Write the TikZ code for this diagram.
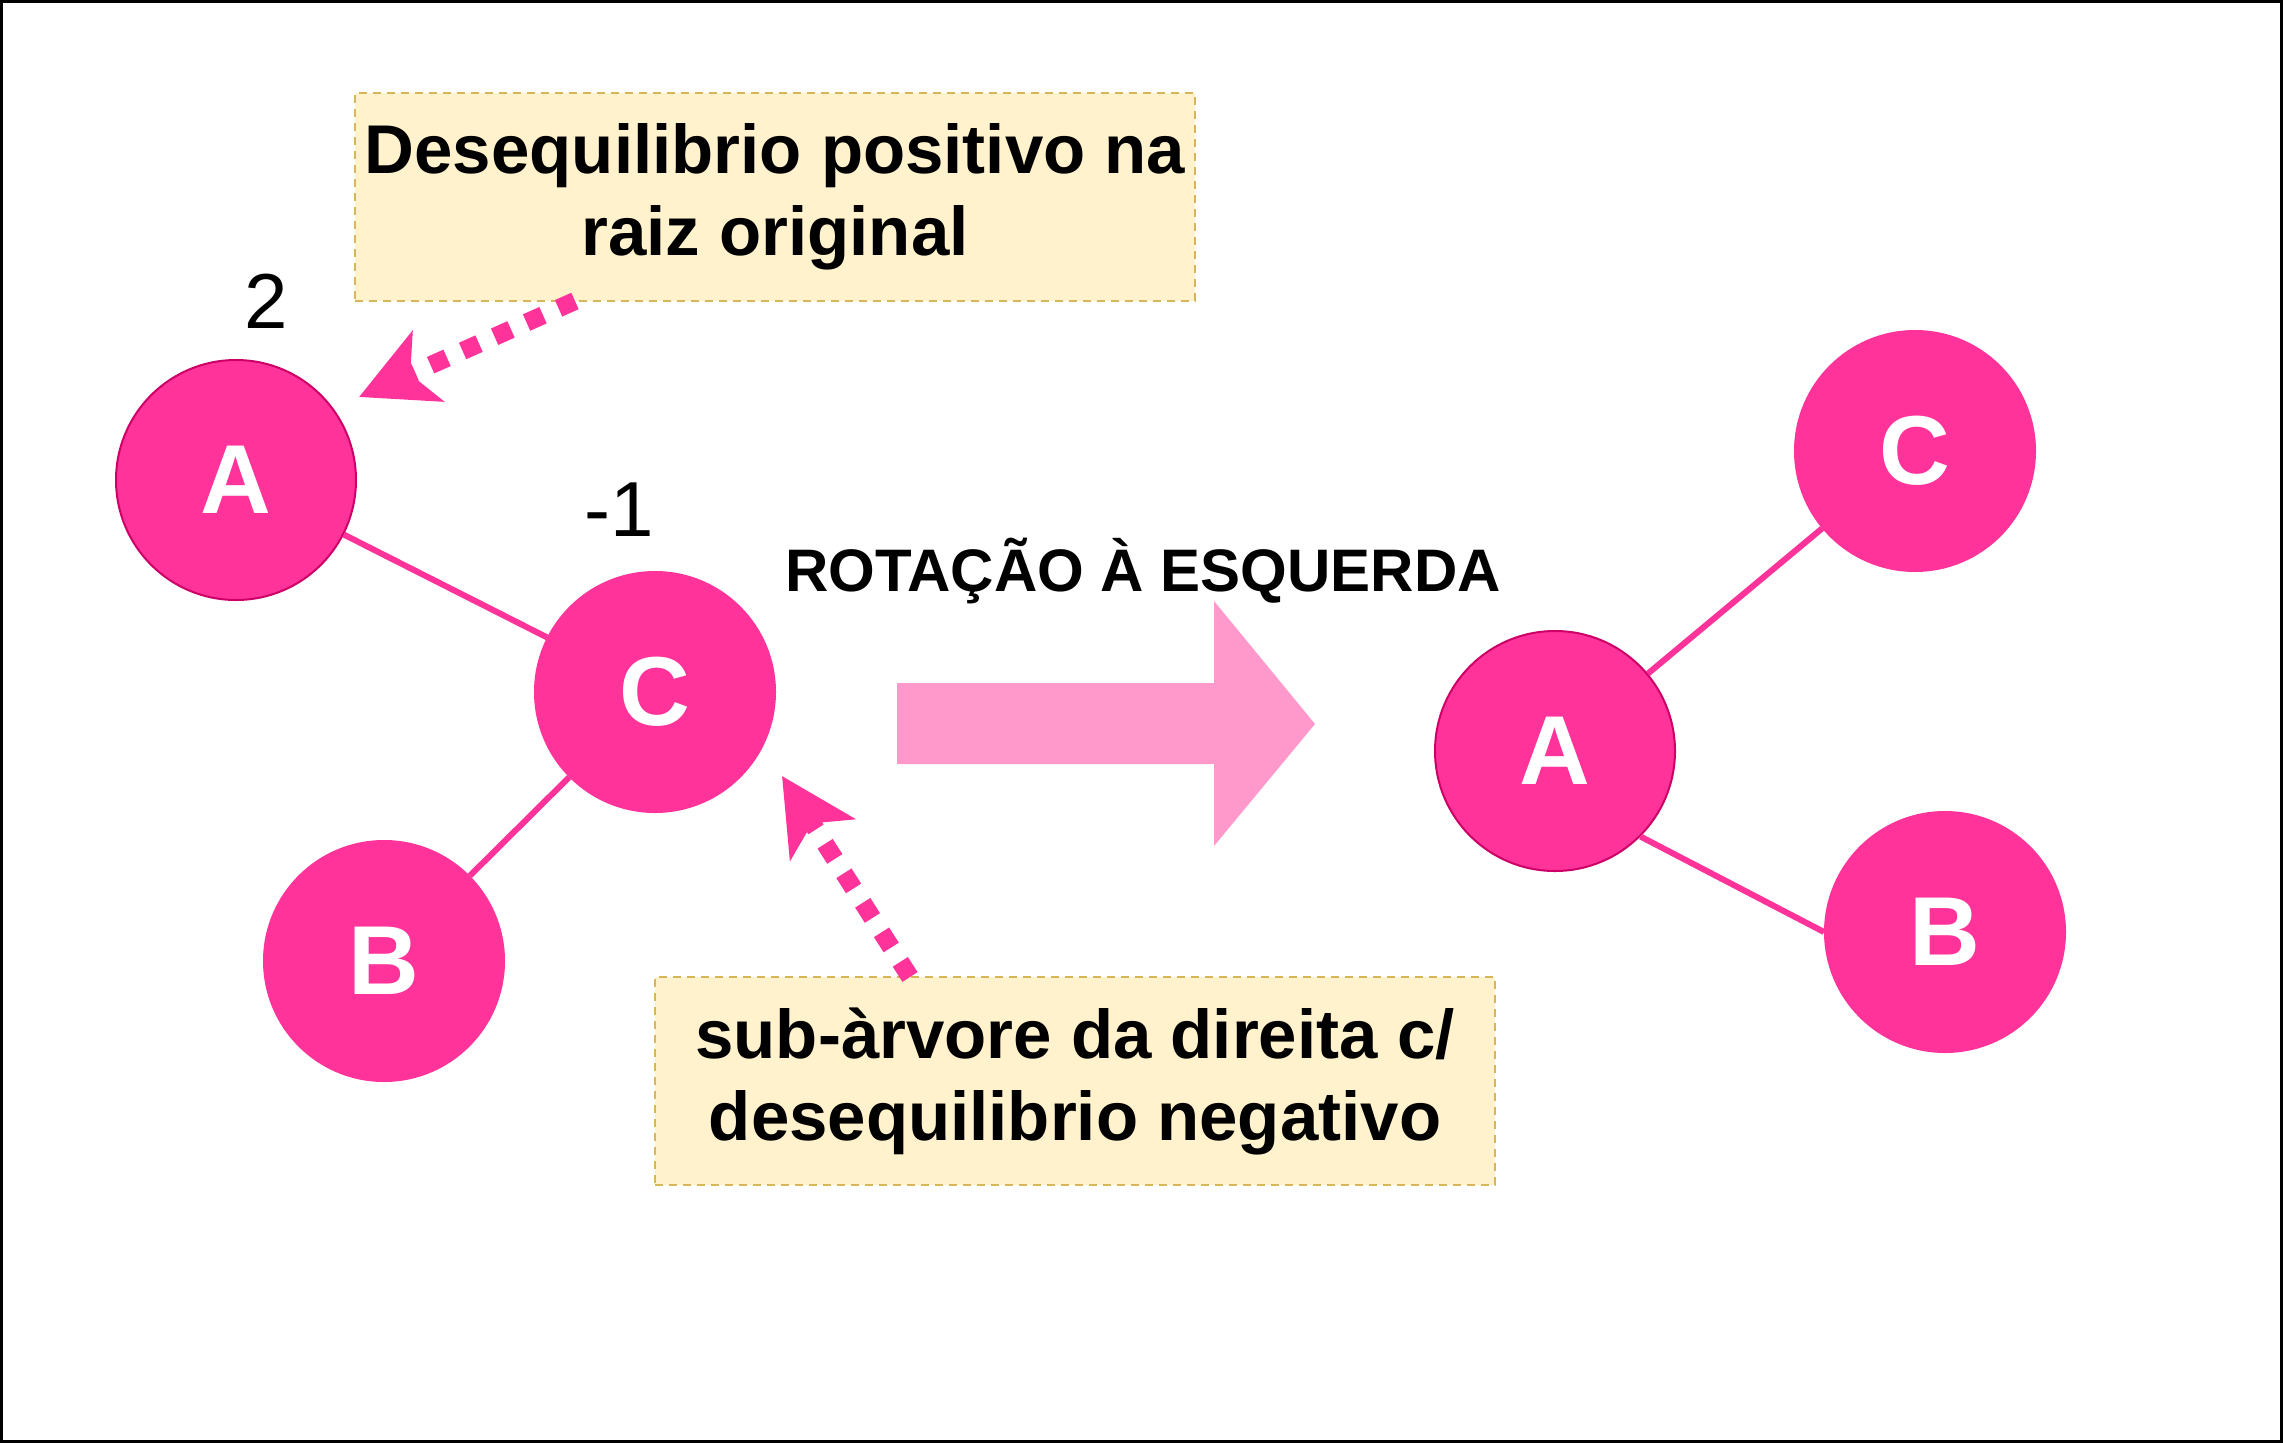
\documentclass[tikz,border=0pt]{standalone}
\usepackage{fontspec}
\setmainfont{Liberation Sans}
\usetikzlibrary{arrows.meta}
\definecolor{nodepink}{HTML}{FF3399}
\definecolor{rimpink}{HTML}{CC0066}
\definecolor{arrowpink}{HTML}{FF99CC}
\definecolor{notefill}{HTML}{FFF2CC}
\definecolor{noteborder}{HTML}{D6B656}
\tikzset{
  treenode/.style={circle, fill=nodepink, draw=nodepink, line width=2pt, minimum size=240pt, inner sep=0pt,
    font=\fontsize{98}{98}\selectfont\bfseries, text=white},
  rim/.style={draw=rimpink},
  treeedge/.style={draw=nodepink, line width=6pt},
  note/.style={draw=noteborder, fill=notefill, dash pattern=on 8pt off 6pt, line width=2pt,
    minimum width=840pt, minimum height=208pt, align=center, inner sep=0pt,
    font=\fontsize{69}{82}\selectfont\bfseries,
    execute at begin node={\rule{0pt}{74pt}}},
  pointer/.style={draw=nodepink, line width=18pt, dash pattern=on 18pt off 17pt,
    -{Stealth[length=75pt,width=76pt,inset=19pt]}},
  balance/.style={font=\fontsize{78}{78}\selectfont, inner sep=0pt}
}
\begin{document}
\begin{tikzpicture}[x=1pt,y=-1pt]
\useasboundingbox (0,0) rectangle (2283,1443);
\draw[line width=2.5pt] (1.5,1.5) rectangle (2281.5,1441.5);

% left tree
\node[treenode, rim] (la) at (236,480) {A};
\node[treenode] (lc) at (655,692) {C};
\node[treenode] (lb) at (384,961) {B};
\draw[treeedge] (la) -- (lc);
\draw[treeedge] (lc) -- (lb);

% right tree
\node[treenode, rim] (ra) at (1555,751) {A};
\node[treenode] (rc) at (1915,451) {C};
\node[treenode] (rb) at (1945,932) {B};
\draw[treeedge] (ra) -- (rc);
\draw[treeedge] (ra.-45) -- (rb.west);

% balance labels
\node[balance] (two) at (266,301) {2};
\node[balance] (minusone) at (619,510) {-1};

% rotation label and arrow
\node[font=\fontsize{60}{60}\selectfont\bfseries, inner sep=0pt] (rot) at (1143,571) {ROTAÇÃO À ESQUERDA};
\fill[arrowpink] (897,683) -- (1214,683) -- (1214,601) -- (1315,724) -- (1214,846) -- (1214,764) -- (897,764) -- cycle;

% notes
\node[note] (n1) at (775,196.5) {Desequilibrio positivo na\\raiz original};
\node[note] (n2) at (1075,1081) {sub-àrvore da direita c/\\desequilibrio negativo};

\coordinate (s1) at (575,301);
\coordinate (t1) at (359,397);
\coordinate (s2) at (910,977);
\coordinate (t2) at (782,776);
\draw[pointer] (s1) -- (t1);
\draw[pointer] (s2) -- (t2);
\end{tikzpicture}
\end{document}
